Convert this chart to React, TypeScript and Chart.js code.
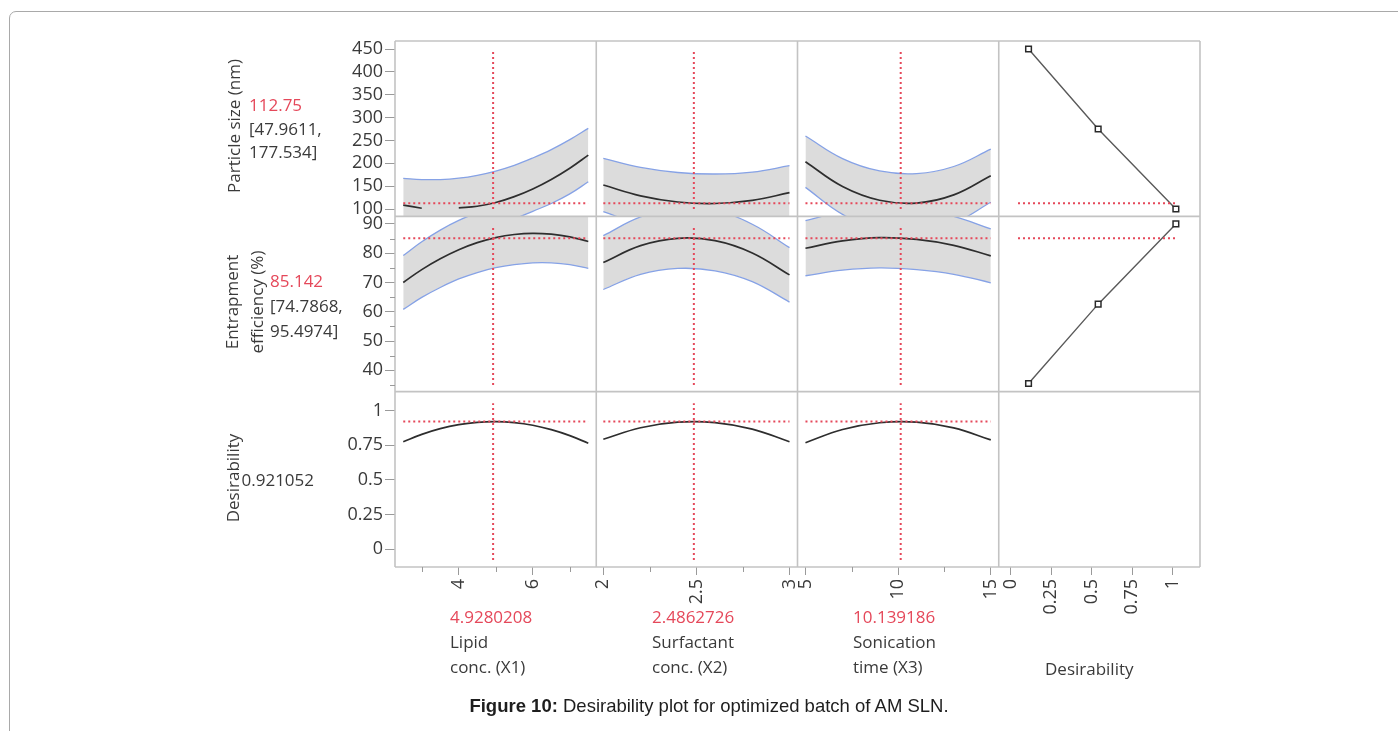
import React, { useEffect, useRef } from "react";
import { Chart, registerables } from "chart.js";

// clips selected datasets (and their fills) to their own panel
const panelClipPlugin = {
  id: "panelClip",
  beforeDatasetDraw(chart: any, args: any) {
    const ds = chart.data.datasets[args.index];
    if (!ds || !ds.panelClip) return;
    const { xScale, yScale } = args.meta;
    const ctx = chart.ctx;
    ctx.save();
    ctx.beginPath();
    ctx.rect(xScale.left, yScale.top, xScale.right - xScale.left, yScale.bottom - yScale.top);
    ctx.clip();
  },
  afterDatasetDraw(chart: any, args: any) {
    const ds = chart.data.datasets[args.index];
    if (!ds || !ds.panelClip) return;
    chart.ctx.restore();
  },
};
Chart.register(panelClipPlugin as any);
Chart.register(...registerables);

// ---------------- data ----------------
const X1_GRID = [2.5, 3.0, 3.5, 4.0, 4.5, 5.0, 5.5, 6.0, 6.5, 7.0, 7.5];
const X2_GRID = [2, 2.2, 2.4, 2.6, 2.8, 3];
const X3_GRID = [5, 7, 9, 11, 13, 15];

// Particle size (nm)  (null = part of the trace hidden in the picture)
const PS_PRED = [
  [108.7, 101.7, null, 102.5, 106.0, 114.2, 127.1, 143.9, 164.7, 189.3, 218.0],
  [152.5, 128.9, 115.4, 112.1, 118.8, 135.7],
  [203.5, 149.3, 119.2, 113.1, 131.0, 172.9],
];
const PS_UPPER = [
  [167.2, 164.5, 164.4, 167.5, 173.8, 183.1, 195.6, 211.6, 229.9, 251.7, 276.5],
  [210.9, 190.9, 179.9, 176.6, 180.8, 194.7],
  [259.7, 210.3, 183.2, 177.6, 193.0, 231.0],
];
const PS_LOWER = [
  [50.2, 42.0, 40.0, 42.0, 50.0, 62.0, 78.0, 95.0, 112.0, 133.0, 159.5],
  [94.1, 66.9, 50.9, 47.6, 56.8, 76.7],
  [147.3, 88.3, 55.2, 48.6, 69.0, 114.8],
];

// Entrapment efficiency (%)
const EE_PRED = [
  [70.0, 74.4, 78.1, 81.2, 83.6, 85.35, 86.4, 86.8, 86.5, 85.6, 84.0],
  [76.8, 82.6, 85.1, 84.3, 80.1, 72.6],
  [81.7, 84.2, 85.3, 84.7, 82.7, 79.1],
];
const EE_UPPER = [
  [79.2, 83.9, 87.9, 91.2, 93.8, 95.65, 96.7, 96.9, 96.3, 95.1, 93.2],
  [86.0, 92.4, 95.4, 94.6, 89.9, 81.9],
  [91.1, 94.2, 95.6, 95.0, 92.6, 88.3],
];
const EE_LOWER = [
  [60.8, 64.9, 68.3, 71.2, 73.4, 75.05, 76.1, 76.7, 76.7, 76.1, 74.8],
  [67.6, 72.8, 74.8, 74.0, 70.3, 63.3],
  [72.3, 74.2, 75.0, 74.4, 72.8, 69.9],
];

// Desirability
const DES_PRED = [
  [0.776, 0.829, 0.87, 0.899, 0.916, 0.921, 0.914, 0.895, 0.863, 0.82, 0.765],
  [0.794, 0.877, 0.917, 0.914, 0.867, 0.776],
  [0.769, 0.864, 0.913, 0.917, 0.876, 0.789],
];

// desirability functions (right column)
const DES_FN_D = [0.11, 0.54, 1.02];
const PS_FN_Y = [450, 275, 100];
const EE_FN_Y = [35.5, 62.6, 90];
const DES_NOW_RANGE = [0.045, 1.02];

// current settings
const FACTOR_NOW = [4.9280208, 2.4862726, 10.139186];
const FACTOR_NOW_TEXT = ["4.9280208", "2.4862726", "10.139186"];
const RESPONSE_NOW = [112.75, 85.142, 0.921052];
const VERTICAL_SPAN = [
  [100, 445],
  [35, 89],
  [-0.077, 1.053],
];

// axes
const PS_TICKS = [100, 150, 200, 250, 300, 350, 400, 450];
const EE_TICKS = [40, 50, 60, 70, 80, 90];
const EE_MINOR = [35, 45, 55, 65, 75, 85];
const DES_TICKS = [0, 0.25, 0.5, 0.75, 1];
const X1_TICKS = [4, 6];
const X1_MINOR = [3, 5, 7];
const X2_TICKS = [2, 2.5, 3];
const X2_MINOR = [2.25, 2.75];
const X3_TICKS = [5, 10, 15];
const X3_MINOR = [7.5, 12.5];
const XD_TICKS = [0, 0.25, 0.5, 0.75, 1];

const X_MIN = [2.277, 1.962, 4.57, -0.074];
const X_MAX = [7.715, 3.043, 15.43, 1.169];
const Y_MIN = [84.0, 32.7, -0.1277];
const Y_MAX = [467.5, 92.6, 1.137];

// texts
const RESPONSE_TITLES = [["Particle size (nm)"], ["Entrapment", "efficiency (%)"], ["Desirability"]];
const RESPONSE_NOW_TEXT = ["112.75", "85.142", "0.921052"];
const RESPONSE_CI_TEXT = [["[47.9611,", "177.534]"], ["[74.7868,", "95.4974]"], []];
const FACTOR_TITLES = [["Lipid", "conc. (X1)"], ["Surfactant", "conc. (X2)"], ["Sonication", "time (X3)"]];

// ---------------- styles ----------------
const RED = "#e5485a";
const TEXT = "#3a3a3a";
const BAND = "#dcdcdc";
const BLUE = "#86a2e6";
const CURVE = "#2e2e2e";
const PANEL = "#c3c3c3";
const TICK = "#9a9a9a";
const FONT = "'Open Sans', 'Noto Sans', sans-serif";

const X_IDS = ["xA", "xB", "xC", "xD"];
const Y_IDS = ["yPS", "yEE", "yD"];

function pts(xs: number[], ys: (number | null)[]) {
  return xs.map((x, i) => ({ x, y: ys[i] }));
}

function buildDatasets() {
  const grids = [X1_GRID, X2_GRID, X3_GRID];
  const ds: any[] = [];
  const base = { type: "line", pointRadius: 0, pointHoverRadius: 0, tension: 0.4, spanGaps: false };
  const respPred = [PS_PRED, EE_PRED];
  const respUp = [PS_UPPER, EE_UPPER];
  const respLo = [PS_LOWER, EE_LOWER];
  for (let r = 0; r < 2; r++) {
    for (let c = 0; c < 3; c++) {
      const g = grids[c];
      ds.push({
        ...base,
        xAxisID: X_IDS[c],
        yAxisID: Y_IDS[r],
        data: pts(g, respLo[r][c]),
        borderColor: BLUE,
        borderWidth: 1.3,
        fill: false,
        order: 30 - 10 * r,
      });
      ds.push({
        ...base,
        xAxisID: X_IDS[c],
        yAxisID: Y_IDS[r],
        data: pts(g, respUp[r][c]),
        borderColor: BLUE,
        borderWidth: 1.3,
        backgroundColor: BAND,
        fill: "-1",
        panelClip: r === 0,
        order: 30 - 10 * r,
      });
      ds.push({
        ...base,
        xAxisID: X_IDS[c],
        yAxisID: Y_IDS[r],
        data: pts(g, respPred[r][c]),
        borderColor: CURVE,
        borderWidth: 1.7,
        fill: false,
        order: 25 - 10 * r,
      });
    }
  }
  for (let c = 0; c < 3; c++) {
    ds.push({
      ...base,
      xAxisID: X_IDS[c],
      yAxisID: "yD",
      data: pts(grids[c], DES_PRED[c]),
      borderColor: CURVE,
      borderWidth: 1.7,
      fill: false,
      order: 5,
    });
  }
  // red crosshairs
  const dash = { ...base, tension: 0, borderColor: RED, borderWidth: 2, borderDash: [2, 3], fill: false, order: 1 };
  for (let r = 0; r < 3; r++) {
    for (let c = 0; c < 3; c++) {
      const g = grids[c];
      ds.push({
        ...dash,
        xAxisID: X_IDS[c],
        yAxisID: Y_IDS[r],
        data: [
          { x: FACTOR_NOW[c], y: VERTICAL_SPAN[r][0] },
          { x: FACTOR_NOW[c], y: VERTICAL_SPAN[r][1] },
        ],
      });
      ds.push({
        ...dash,
        xAxisID: X_IDS[c],
        yAxisID: Y_IDS[r],
        data: [
          { x: g[0], y: RESPONSE_NOW[r] },
          { x: g[g.length - 1], y: RESPONSE_NOW[r] },
        ],
      });
    }
  }
  const fnY = [PS_FN_Y, EE_FN_Y];
  for (let r = 0; r < 2; r++) {
    ds.push({
      ...dash,
      xAxisID: "xD",
      yAxisID: Y_IDS[r],
      data: [
        { x: DES_NOW_RANGE[0], y: RESPONSE_NOW[r] },
        { x: DES_NOW_RANGE[1], y: RESPONSE_NOW[r] },
      ],
    });
    ds.push({
      type: "line",
      xAxisID: "xD",
      yAxisID: Y_IDS[r],
      data: pts(DES_FN_D, fnY[r]),
      borderColor: "#5a5a5a",
      borderWidth: 1.4,
      tension: 0,
      fill: false,
      pointStyle: "rect",
      pointRadius: 4,
      pointHoverRadius: 4,
      pointBorderColor: "#2a2a2a",
      pointBackgroundColor: "#ffffff",
      pointBorderWidth: 1.5,
      order: 3,
    });
  }
  return ds;
}

const tickFont = { family: FONT, size: 18 };

function xScale(i: number, ticks: number[]) {
  return {
    type: "linear",
    position: "bottom",
    stack: "cols",
    stackWeight: 1,
    weight: i + 1,
    min: X_MIN[i],
    max: X_MAX[i],
    afterBuildTicks: (s: any) => {
      s.ticks = ticks.map((v) => ({ value: v }));
    },
    afterFit: (s: any) => {
      s.height = 50;
    },
    ticks: {
      autoSkip: false,
      minRotation: 90,
      maxRotation: 90,
      padding: 4,
      color: TEXT,
      font: tickFont,
      callback: (v: any) => String(v),
    },
    grid: { drawOnChartArea: false, drawTicks: true, tickLength: 8, tickColor: TICK, color: TICK },
    border: { display: false },
  };
}

function yScale(i: number, ticks: number[]) {
  return {
    type: "linear",
    position: "left",
    stack: "rows",
    stackWeight: 1,
    weight: 3 - i,
    min: Y_MIN[i],
    max: Y_MAX[i],
    afterBuildTicks: (s: any) => {
      s.ticks = ticks.map((v) => ({ value: v }));
    },
    afterFit: (s: any) => {
      s.width = 60;
    },
    ticks: {
      autoSkip: false,
      padding: 2,
      color: TEXT,
      font: tickFont,
      callback: (v: any) => String(v),
    },
    grid: { drawOnChartArea: false, drawTicks: true, tickLength: 10, tickColor: TICK, color: TICK },
    border: { display: false },
  };
}

const panelPlugin = {
  id: "profilerPanels",
  afterDatasetsDraw(chart: any) {
    const { ctx, chartArea } = chart;
    ctx.save();
    ctx.strokeStyle = PANEL;
    ctx.lineWidth = 1.6;
    ctx.beginPath();
    X_IDS.forEach((id) => {
      const s = chart.scales[id];
      ctx.moveTo(s.left, chartArea.top);
      ctx.lineTo(s.left, chartArea.bottom);
      ctx.moveTo(s.right, chartArea.top);
      ctx.lineTo(s.right, chartArea.bottom);
    });
    Y_IDS.forEach((id) => {
      const s = chart.scales[id];
      ctx.moveTo(chartArea.left, s.top);
      ctx.lineTo(chartArea.right, s.top);
      ctx.moveTo(chartArea.left, s.bottom);
      ctx.lineTo(chartArea.right, s.bottom);
    });
    ctx.stroke();
    // minor ticks
    ctx.strokeStyle = TICK;
    ctx.lineWidth = 1;
    ctx.beginPath();
    const yEE = chart.scales.yEE;
    EE_MINOR.forEach((v) => {
      const p = Math.round(yEE.getPixelForValue(v)) + 0.5;
      ctx.moveTo(yEE.right - 5, p);
      ctx.lineTo(yEE.right, p);
    });
    const minors = [X1_MINOR, X2_MINOR, X3_MINOR];
    minors.forEach((arr, i) => {
      const s = chart.scales[X_IDS[i]];
      arr.forEach((v) => {
        const p = Math.round(s.getPixelForValue(v)) + 0.5;
        ctx.moveTo(p, s.top);
        ctx.lineTo(p, s.top + 5);
      });
    });
    ctx.stroke();
    ctx.restore();
  },
};

function Rotated({ cx, cy, lines }: { cx: number; cy: number; lines: string[] }) {
  return (
    <div
      style={{
        position: "absolute",
        left: cx,
        top: cy,
        transform: "translate(-50%, -50%) rotate(-90deg)",
        whiteSpace: "nowrap",
        textAlign: "center",
        fontSize: 17,
        lineHeight: "25px",
        color: TEXT,
      }}
    >
      {lines.map((l, i) => (
        <div key={i}>{l}</div>
      ))}
    </div>
  );
}

function Block({ left, top, lh, red, lines }: { left: number; top: number; lh: number; red?: string; lines: string[] }) {
  return (
    <div
      style={{
        position: "absolute",
        left,
        top,
        whiteSpace: "nowrap",
        fontSize: 17,
        lineHeight: lh + "px",
        color: TEXT,
      }}
    >
      {red !== undefined && <div style={{ color: RED }}>{red}</div>}
      {lines.map((l, i) => (
        <div key={i}>{l}</div>
      ))}
    </div>
  );
}

export default function App() {
  const ref = useRef<HTMLCanvasElement>(null);
  useEffect(() => {
    const chart = new Chart(ref.current as HTMLCanvasElement, {
      type: "line",
      data: { datasets: buildDatasets() },
      options: {
        responsive: false,
        animation: false,
        events: [],
        layout: { padding: { left: 335, right: 198, top: 41, bottom: 114 } },
        plugins: { legend: { display: false }, tooltip: { enabled: false } },
        scales: {
          xA: xScale(0, X1_TICKS),
          xB: xScale(1, X2_TICKS),
          xC: xScale(2, X3_TICKS),
          xD: xScale(3, XD_TICKS),
          yPS: yScale(0, PS_TICKS),
          yEE: yScale(1, EE_TICKS),
          yD: yScale(2, DES_TICKS),
        } as any,
      } as any,
      plugins: [panelPlugin as any],
    } as any);
    return () => chart.destroy();
  }, []);

  return (
    <div
      style={{
        position: "absolute",
        left: 0,
        top: 0,
        width: 1398,
        height: 731,
        overflow: "hidden",
        background: "#ffffff",
        fontFamily: FONT,
      }}
    >
      <div
        style={{
          position: "absolute",
          left: 9,
          top: 11,
          width: 1440,
          height: 780,
          border: "1.5px solid #a9a9a9",
          borderRadius: 7,
          boxSizing: "border-box",
        }}
      />
      <canvas ref={ref} width={1398} height={731} style={{ position: "absolute", left: 0, top: 0, width: 1398, height: 731 }} />

      <Rotated cx={233} cy={126} lines={RESPONSE_TITLES[0]} />
      <Block left={249} top={93} lh={23.5} red={RESPONSE_NOW_TEXT[0]} lines={RESPONSE_CI_TEXT[0]} />
      <Rotated cx={244} cy={302} lines={RESPONSE_TITLES[1]} />
      <Block left={270} top={267.5} lh={25} red={RESPONSE_NOW_TEXT[1]} lines={RESPONSE_CI_TEXT[1]} />
      <Rotated cx={232} cy={478} lines={RESPONSE_TITLES[2]} />
      <div style={{ position: "absolute", left: 241.5, top: 467, fontSize: 17, lineHeight: "25px", color: TEXT }}>
        {RESPONSE_NOW_TEXT[2]}
      </div>

      {[450, 652, 853].map((left, i) => (
        <Block key={i} left={left} top={603.5} lh={25} red={FACTOR_NOW_TEXT[i]} lines={FACTOR_TITLES[i]} />
      ))}
      <div style={{ position: "absolute", left: 1045, top: 655.5, fontSize: 17, lineHeight: "25px", color: TEXT }}>
        Desirability
      </div>

      <div
        style={{
          position: "absolute",
          left: 0,
          width: 1418,
          top: 695,
          textAlign: "center",
          fontFamily: "'Liberation Sans', Arial, sans-serif",
          fontSize: 18.5,
          lineHeight: "22px",
          color: "#1e1e1e",
          whiteSpace: "nowrap",
        }}
      >
        <b>Figure 10:</b> Desirability plot for optimized batch of AM SLN.
      </div>
    </div>
  );
}
